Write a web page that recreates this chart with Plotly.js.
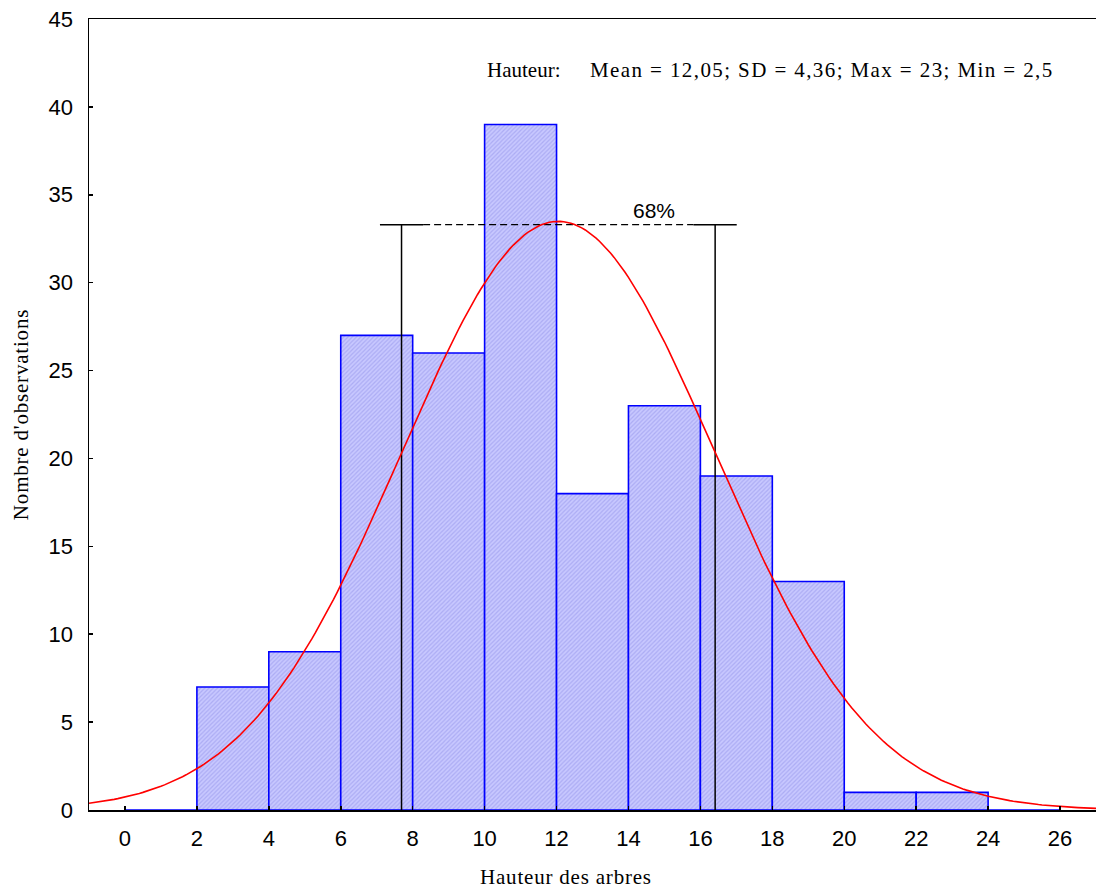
<!DOCTYPE html>
<html>
<head>
<meta charset="utf-8">
<script src="https://cdn.plot.ly/plotly-3.0.1.min.js"></script>
<style>
  html, body { margin: 0; padding: 0; background: #fff; }
  #chart { width: 1096px; height: 895px; }
</style>
</head>
<body>
<div id="chart"></div>
<script>
// Histogram of tree heights (class width 2)
const binCenters = [1, 3, 5, 7, 9, 11, 13, 15, 17, 19, 21, 23, 25];
const binCounts  = [0, 7, 9, 27, 26, 39, 18, 23, 19, 13, 1, 1, 0];
const binWidth = 2;

// Summary statistics shown in the header text
const meanHeight = 12.05;
const sdHeight = 4.36;
const maxHeight = 23;
const minHeight = 2.5;

// Height of the mean ± SD bracket and its label
const bracketTop = 33.3;
const capHalf = 0.6;
const bracketLabel = '68%';

const xTicks = [0, 2, 4, 6, 8, 10, 12, 14, 16, 18, 20, 22, 24, 26];
const yTicks = [0, 5, 10, 15, 20, 25, 30, 35, 40, 45];

const xTitle = 'Hauteur des arbres';
const yTitle = "Nombre d'observations";

// Expected normal counts for the fitted curve
const total = binCounts.reduce((a, b) => a + b, 0);
const curveX = [];
const curveY = [];
for (let x = -1; x <= 27.001; x += 0.1) {
  const z = (x - meanHeight) / sdHeight;
  curveX.push(x);
  curveY.push(total * binWidth / (sdHeight * Math.sqrt(2 * Math.PI)) * Math.exp(-0.5 * z * z));
}

const lo = meanHeight - sdHeight;
const hi = meanHeight + sdHeight;

const traces = [
  {
    type: 'bar',
    x: binCenters,
    y: binCounts,
    width: binWidth,
    marker: {
      color: '#c8c8ff',
      line: { color: '#0000ff', width: 1.6 },
      pattern: { shape: '/', fgcolor: '#acacf4', bgcolor: '#c8c8ff', size: 3, solidity: 0.4 }
    },
    hoverinfo: 'x+y'
  },
  {
    type: 'scatter', mode: 'lines',
    x: [lo, lo, null, hi, hi],
    y: [0, bracketTop, null, 0, bracketTop],
    line: { color: '#000', width: 1.5 }
  },
  {
    type: 'scatter', mode: 'lines',
    x: [lo - capHalf, lo + capHalf, null, hi - capHalf, hi + capHalf],
    y: [bracketTop, bracketTop, null, bracketTop, bracketTop],
    line: { color: '#000', width: 1.5 }
  },
  {
    type: 'scatter', mode: 'lines',
    x: [lo + capHalf, hi - capHalf],
    y: [bracketTop, bracketTop],
    line: { color: '#000', width: 1.2, dash: '7px,4px' }
  },
  {
    type: 'scatter', mode: 'lines',
    x: curveX, y: curveY,
    line: { color: '#ff0000', width: 1.6 }
  }
];

const fmt = v => String(v).replace('.', ',');
const statsText = 'Mean = ' + fmt(meanHeight) + '; SD = ' + fmt(sdHeight) +
  '; Max = ' + fmt(maxHeight) + '; Min = ' + fmt(minHeight);

const serif = 'Liberation Serif, Times New Roman, serif';
const sans = 'Liberation Sans, Arial, sans-serif';
const spaced = (s, px) => '<span style="letter-spacing:' + px + 'px">' + s + '</span>';

// pixel → paper helpers for free-standing labels (plot area: x 89..1096, y 19..810)
const pxToPaperX = px => (px - 89) / 1007;
const pxToPaperY = py => (810 - py) / 791;

const layout = {
  width: 1096, height: 895,
  margin: { l: 89, r: 0, t: 19, b: 85 },
  paper_bgcolor: '#fff', plot_bgcolor: '#fff',
  showlegend: false,
  bargap: 0,
  xaxis: {
    range: [-1, 27],
    tickvals: xTicks,
    ticktext: xTicks.map(String),
    ticks: 'inside', ticklen: 4, tickwidth: 1.5, tickcolor: '#000',
    ticklabelstandoff: 8,
    showline: true, linecolor: '#000', linewidth: 1.5, mirror: true,
    showgrid: false, zeroline: false,
    tickfont: { family: sans, size: 22, color: '#000' }
  },
  yaxis: {
    range: [0, 45],
    tickvals: yTicks,
    ticks: 'inside', ticklen: 4, tickwidth: 1.5, tickcolor: '#000',
    ticklabelstandoff: 10,
    showline: true, linecolor: '#000', linewidth: 1.5,
    showgrid: false, zeroline: false,
    tickfont: { family: sans, size: 22, color: '#000' },
    title: { text: spaced(yTitle, 0.8), font: { family: serif, size: 21, color: '#000' }, standoff: 14 }
  },
  annotations: [
    {
      x: pxToPaperX(566), y: pxToPaperY(877), xref: 'paper', yref: 'paper', showarrow: false,
      text: spaced(xTitle, 0.8), xanchor: 'center', yanchor: 'middle',
      font: { family: serif, size: 21, color: '#000' }
    },
    {
      x: pxToPaperX(485), y: pxToPaperY(70), xref: 'paper', yref: 'paper', showarrow: false,
      text: 'Hauteur:', xanchor: 'left', yanchor: 'middle',
      font: { family: serif, size: 21, color: '#000' }
    },
    {
      x: pxToPaperX(1056), y: pxToPaperY(70), xref: 'paper', yref: 'paper', showarrow: false,
      text: spaced(statsText, 1.4), xanchor: 'right', yanchor: 'middle',
      font: { family: serif, size: 21, color: '#000' }
    },
    {
      x: pxToPaperX(654), y: bracketTop, xref: 'paper', yref: 'y', showarrow: false,
      text: bracketLabel, xanchor: 'center', yanchor: 'bottom', yshift: 1,
      font: { family: sans, size: 21, color: '#000' }
    }
  ]
};

Plotly.newPlot('chart', traces, layout, { displayModeBar: false, staticPlot: true });
</script>
</body>
</html>
